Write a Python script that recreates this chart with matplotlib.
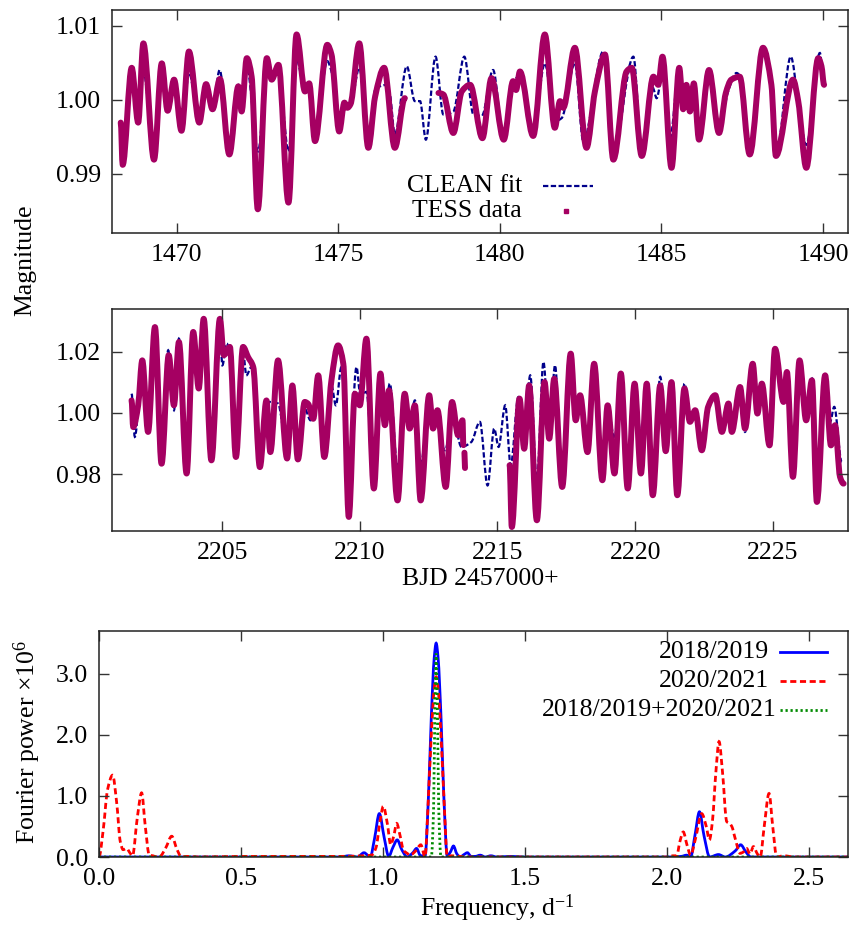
import numpy as np
import matplotlib
matplotlib.use('Agg')
import matplotlib.pyplot as plt
from matplotlib.ticker import FormatStrFormatter
from matplotlib.path import Path
from matplotlib.patches import PathPatch

plt.rcParams['font.family'] = ['Liberation Serif', 'DejaVu Serif']
plt.rcParams['mathtext.fontset'] = 'custom'
plt.rcParams['mathtext.rm'] = 'Liberation Serif'
plt.rcParams['mathtext.it'] = 'Liberation Serif:italic'

nan = np.nan

# ---------------- Panel 1: TESS 2018/2019 ----------------
t1_data = [1468.27, 1468.33, 1468.61, 1468.81, 1468.97, 1469.30, 1469.54, 1469.72, 1469.92, 1470.15,
           1470.38, 1470.70, 1470.91, 1471.11, 1471.34, 1471.63, 1471.91, 1472.01, 1472.17, 1472.32,
           1472.51, 1472.79, 1472.94, 1473.15, 1473.46, 1473.71, 1473.97, 1474.10, 1474.28, 1474.66,
           1474.79, 1475.03, 1475.19, 1475.28, 1475.38, 1475.65, 1475.93, 1476.14, 1476.42, 1476.75,
           1477.06, nan, 1478.10, 1478.25, 1478.56, 1478.82, 1479.08, 1479.46, 1479.74, 1480.12,
           1480.41, 1480.50, 1480.62, 1481.03, 1481.39, 1481.70, 1481.86, 1481.96, 1482.32, 1482.68,
           1482.94, 1483.25, 1483.51, 1483.92, 1484.08, 1484.39, 1484.75, 1484.90, 1485.03, 1485.31,
           1485.55, 1485.67, 1485.77, 1485.88, 1486.00, 1486.16, 1486.47, 1486.78, 1486.99, 1487.16,
           1487.42, 1487.73, 1488.14, 1488.40, 1488.54, 1489.07, 1489.23, 1489.48, 1489.85, 1489.95,
           1490.03]
m1_data = [0.9969, 0.9912, 1.0043, 0.9969, 1.0076, 0.9919, 1.0049, 0.9985, 1.0027, 0.9958,
           1.0065, 0.9969, 1.0021, 0.9987, 1.0028, 0.9926, 1.0018, 0.9984, 1.0056, 1.0031,
           0.9852, 1.0056, 1.0027, 1.0047, 0.9861, 1.0088, 1.0011, 1.0022, 0.9944, 1.0074,
           1.0061, 0.9957, 0.9996, 0.9989, 0.9994, 1.0076, 0.9935, 1.0004, 1.0043, 0.9935,
           1.0002, nan, 1.0009, 1.0007, 0.9955, 1.0011, 1.0020, 0.9948, 1.0029, 0.9946,
           1.0025, 1.0013, 1.0038, 0.9951, 1.0088, 0.9962, 0.9998, 0.9989, 1.0070, 0.9935,
           1.0011, 1.0061, 0.9919, 1.0038, 1.0043, 0.9924, 1.0031, 1.0020, 1.0058, 0.9908,
           1.0043, 0.9987, 1.0020, 0.9984, 1.0022, 0.9946, 1.0040, 0.9955, 1.0009, 1.0027,
           1.0031, 0.9926, 1.0070, 1.0020, 0.9924, 1.0027, 0.9998, 0.9908, 1.0056, 1.0045,
           1.0020]

t1_fit = [1468.30, 1468.61, 1468.80, 1468.97, 1469.30, 1469.54, 1469.72, 1469.92, 1470.15, 1470.38,
          1470.70, 1470.91, 1471.11, 1471.33, 1471.63, 1471.91, 1472.01, 1472.17, 1472.52, 1472.79,
          1472.95, 1473.15, 1473.46, 1473.71, 1473.97, 1474.10, 1474.28, 1474.66, 1474.79, 1475.05,
          1475.21, 1475.38, 1475.65, 1475.95, 1476.14, 1476.29, 1476.50, 1476.60, 1476.75, 1477.12,
          1477.37, 1477.53, 1477.71, 1478.01, 1478.25, 1478.56, 1478.90, 1479.18, 1479.44, 1479.79,
          1480.10, 1480.46, 1480.60, 1481.03, 1481.39, 1481.70, 1481.91, 1482.32, 1482.58, 1483.20,
          1483.51, 1484.13, 1484.39, 1484.73, 1484.85, 1485.04, 1485.26, 1485.55, 1485.67, 1485.77,
          1485.88, 1486.00, 1486.16, 1486.47, 1486.78, 1487.06, 1487.32, 1487.44, 1487.73, 1488.14,
          1488.40, 1488.56, 1489.00, 1489.23, 1489.48, 1489.90, 1490.03]
m1_fit = [0.9945, 1.0015, 1.0012, 1.0038, 0.9930, 1.0035, 0.9990, 1.0022, 0.9955, 1.0036,
          0.9975, 1.0018, 0.9985, 1.0040, 0.9935, 1.0020, 1.0005, 1.0045, 0.9930, 1.0038,
          1.0030, 1.0040, 0.9930, 1.0054, 1.0013, 1.0018, 0.9951, 1.0052, 1.0038, 0.9971,
          0.9993, 0.9993, 1.0043, 0.9946, 1.0013, 1.0018, 1.0020, 1.0007, 0.9953, 1.0045,
          0.9998, 0.9998, 0.9946, 1.0058, 0.9980, 0.9984, 1.0058, 0.9980, 0.9978, 1.0040,
          0.9953, 1.0027, 1.0031, 0.9957, 1.0049, 0.9971, 0.9975, 1.0049, 0.9944, 1.0065,
          0.9930, 1.0058, 0.9930, 1.0016, 1.0002, 1.0038, 0.9946, 1.0043, 0.9990, 1.0018,
          0.9984, 1.0020, 0.9948, 1.0040, 0.9960, 1.0011, 1.0036, 1.0031, 0.9930, 1.0063,
          1.0018, 0.9930, 1.0058, 0.9998, 0.9939, 1.0063, 1.0016]

# ---------------- Panel 2: TESS 2020/2021 ----------------
t2_data = [2201.71, 2201.77, 2201.95, 2202.10, 2202.31, 2202.56, 2202.80, 2203.06, 2203.25, 2203.43,
           2203.71, 2203.95, 2204.15, 2204.33, 2204.61, 2204.92, 2205.06, 2205.28, 2205.50, 2205.76,
           2205.94, 2206.13, 2206.37, 2206.61, 2206.75, 2207.03, 2207.36, 2207.55, 2207.75, 2208.00,
           2208.12, 2208.31, 2208.49, 2208.71, 2208.97, 2209.21, 2209.40, 2209.60, 2209.82, 2210.00,
           2210.24, 2210.51, 2210.75, 2210.91, 2211.06, 2211.37, 2211.63, 2211.81, 2212.00, 2212.21,
           2212.52, 2212.66, 2212.82, 2213.12, 2213.35, 2213.57, 2213.73, 2213.76, nan, 2213.80,
           2213.82, nan, 2215.44, 2215.52, 2215.80, 2215.97, 2216.15, 2216.43, 2216.71, 2216.88,
           2217.06, 2217.35, 2217.66, 2217.84, 2218.00, 2218.27, 2218.51, 2218.81, 2219.00, 2219.25,
           2219.48, 2219.73, 2219.98, 2220.21, 2220.42, 2220.64, 2220.91, 2221.11, 2221.32, 2221.53,
           2221.79, 2221.99, 2222.18, 2222.42, 2222.65, 2222.91, 2223.15, 2223.39, 2223.51, 2223.81,
           2223.99, 2224.27, 2224.44, 2224.60, 2224.88, 2225.08, 2225.39, 2225.51, 2225.73, 2225.97,
           2226.21, 2226.42, 2226.60, 2226.90, 2227.11, 2227.26, 2227.44, 2227.57]
m2_data = [1.0041, 0.9954, 1.0025, 1.0172, 0.9938, 1.0281, 0.9834, 1.0189, 1.0025, 1.0232,
           0.9802, 1.0265, 1.0080, 1.0308, 0.9845, 1.0308, 1.0189, 1.0216, 0.9856, 1.0216,
           1.0183, 1.0150, 0.9823, 1.0041, 0.9872, 1.0172, 0.9851, 1.0090, 0.9848, 1.0036,
           1.0030, 0.9981, 1.0123, 0.9856, 1.0107, 1.0221, 1.0161, 0.9660, 1.0063, 1.0025,
           1.0243, 0.9753, 1.0129, 0.9960, 1.0074, 0.9714, 1.0063, 0.9949, 1.0025, 0.9714,
           1.0058, 0.9949, 1.0009, 0.9758, 1.0036, 0.9927, 0.9976, 0.9895, nan, 0.9870,
           0.9820, nan, 0.9829, 0.9627, 1.0047, 0.9883, 1.0090, 0.9649, 1.0101, 0.9916,
           1.0112, 0.9758, 1.0194, 0.9976, 1.0058, 0.9872, 1.0161, 0.9780, 1.0025, 0.9802,
           1.0129, 0.9753, 1.0096, 0.9802, 1.0096, 0.9731, 1.0090, 0.9875, 1.0101, 0.9731,
           1.0080, 0.9971, 1.0009, 0.9878, 1.0020, 1.0058, 0.9938, 1.0031, 0.9938, 1.0085,
           0.9949, 1.0161, 0.9998, 1.0096, 0.9894, 1.0210, 1.0036, 1.0134, 0.9791, 1.0172,
           0.9976, 1.0107, 0.9709, 1.0123, 0.9894, 0.9960, 0.9791, 0.9769]

t2_fit = [2201.71, 2201.83, 2202.10, 2202.31, 2202.56, 2202.80, 2203.04, 2203.25, 2203.43, 2203.71,
          2203.95, 2204.15, 2204.33, 2204.61, 2204.92, 2205.01, 2205.16, 2205.30, 2205.50, 2205.76,
          2205.88, 2206.06, 2206.37, 2206.67, 2207.03, 2207.34, 2207.55, 2207.73, 2208.00, 2208.21,
          2208.49, 2208.71, 2208.97, 2209.13, 2209.33, 2209.60, 2209.88, 2210.02, 2210.24, 2210.51,
          2210.79, 2210.94, 2211.09, 2211.37, 2211.63, 2211.81, 2212.00, 2212.21, 2212.52, 2212.79,
          2213.09, 2213.39, 2213.69, 2214.05, 2214.36, 2214.64, 2214.88, 2215.04, 2215.28, 2215.48,
          2215.76, 2215.94, 2216.19, 2216.43, 2216.67, 2216.88, 2217.09, 2217.34, 2217.64, 2217.86,
          2218.03, 2218.27, 2218.51, 2218.81, 2219.00, 2219.25, 2219.48, 2219.73, 2219.98, 2220.21,
          2220.42, 2220.64, 2220.91, 2221.13, 2221.33, 2221.54, 2221.79, 2221.99, 2222.18, 2222.42,
          2222.73, 2222.91, 2223.15, 2223.39, 2223.51, 2223.81, 2223.99, 2224.27, 2224.44, 2224.60,
          2224.88, 2225.08, 2225.39, 2225.51, 2225.73, 2225.97, 2226.21, 2226.42, 2226.60, 2226.90,
          2227.08, 2227.23, 2227.50]
m2_fit = [1.0063, 0.9922, 1.0167, 0.9954, 1.0265, 0.9851, 1.0205, 1.0009, 1.0243, 0.9829,
          1.0259, 1.0090, 1.0298, 0.9862, 1.0254, 1.0156, 1.0227, 1.0189, 0.9872, 1.0199,
          1.0123, 1.0150, 0.9905, 1.0036, 1.0031, 0.9894, 0.9960, 0.9916, 1.0014, 0.9976,
          1.0058, 0.9872, 1.0090, 1.0025, 1.0150, 0.9807, 1.0150, 1.0058, 1.0069, 0.9785,
          1.0058, 1.0025, 1.0096, 0.9818, 1.0025, 0.9965, 1.0041, 0.9829, 1.0020, 0.9974,
          0.9878, 0.9981, 0.9889, 0.9905, 0.9971, 0.9763, 0.9949, 0.9889, 1.0025, 0.9829,
          1.0052, 0.9894, 1.0123, 0.9774, 1.0167, 0.9922, 1.0156, 0.9763, 1.0189, 0.9971,
          1.0058, 0.9878, 1.0156, 0.9796, 1.0020, 0.9916, 1.0123, 0.9763, 1.0090, 0.9927,
          1.0090, 0.9747, 1.0118, 0.9949, 1.0096, 0.9742, 1.0096, 0.9981, 1.0009, 0.9889,
          1.0041, 1.0052, 0.9960, 1.0025, 0.9954, 1.0074, 0.9938, 1.0156, 1.0000, 1.0090,
          0.9900, 1.0205, 1.0047, 1.0134, 0.9818, 1.0161, 0.9985, 1.0112, 0.9742, 1.0118,
          0.9971, 1.0020, 0.9840]

# ---------------- Panel 3: Fourier spectra ----------------
freq_1819 = [0.0, 0.85, 0.88, 0.91, 0.933, 0.955, 0.970, 0.987, 1.004, 1.020, 1.035, 1.050, 1.066,
             1.085, 1.105, 1.118, 1.132, 1.148, 1.160, 1.170, 1.180, 1.187, 1.194, 1.204, 1.214,
             1.226, 1.237, 1.248, 1.260, 1.272, 1.285, 1.297, 1.310, 1.325, 1.342, 1.360, 1.380,
             1.400, 1.450, 1.500, 2.000, 2.050, 2.069, 2.083, 2.098, 2.114, 2.130, 2.150, 2.181,
             2.205, 2.240, 2.259, 2.278, 2.295, 2.640]
pow_1819 = [0.0, 0.0, 0.02, 0.0, 0.07, 0.0, 0.30, 0.71, 0.32, 0.01, 0.16, 0.28, 0.12,
            0.0, 0.07, 0.14, 0.02, 0.02, 1.00, 2.30, 3.25, 3.50, 3.25, 2.30, 1.00,
            0.02, 0.08, 0.18, 0.05, 0.0, 0.04, 0.07, 0.01, 0.01, 0.03, 0.0, 0.02,
            0.0, 0.01, 0.0, 0.0, 0.01, 0.03, 0.0, 0.35, 0.74, 0.35, 0.0, 0.04,
            0.0, 0.10, 0.20, 0.08, 0.0, 0.0]

freq_2021 = [0.0, 0.015, 0.030, 0.048, 0.062, 0.075, 0.085, 0.097, 0.110, 0.118, 0.135, 0.150,
             0.163, 0.177, 0.190, 0.205, 0.215, 0.235, 0.256, 0.275, 0.290, 0.310, 0.350, 0.500,
             0.850, 0.930, 0.960, 0.975, 0.990, 1.001, 1.015, 1.027, 1.038, 1.048, 1.060, 1.072,
             1.085, 1.095, 1.115, 1.133, 1.148, 1.158, 1.170, 1.180, 1.187, 1.194, 1.204, 1.216,
             1.226, 1.240, 1.300, 2.000, 2.020, 2.034, 2.045, 2.057, 2.070, 2.083, 2.100, 2.122,
             2.138, 2.149, 2.160, 2.172, 2.183, 2.195, 2.210, 2.220, 2.228, 2.240, 2.257, 2.268,
             2.280, 2.292, 2.304, 2.318, 2.328, 2.342, 2.359, 2.372, 2.386, 2.410, 2.450, 2.640]
pow_2021 = [0.0, 0.45, 1.10, 1.34, 0.90, 0.25, 0.12, 0.14, 0.06, 0.02, 0.65, 1.05,
            0.50, 0.03, 0.02, 0.0, 0.01, 0.15, 0.34, 0.12, 0.0, 0.01, 0.0, 0.01,
            0.01, 0.02, 0.03, 0.15, 0.60, 0.83, 0.55, 0.20, 0.35, 0.55, 0.35, 0.11,
            0.06, 0.03, 0.10, 0.20, 0.0, 0.80, 2.00, 2.75, 2.95, 2.75, 2.00, 0.80,
            0.0, 0.02, 0.0, 0.0, 0.02, 0.02, 0.25, 0.41, 0.20, 0.03, 0.30, 0.71,
            0.50, 0.28, 0.60, 1.40, 1.89, 1.40, 0.58, 0.55, 0.50, 0.30, 0.06, 0.08,
            0.14, 0.05, 0.17, 0.05, 0.0, 0.50, 1.04, 0.50, 0.0, 0.02, 0.0, 0.0]

freq_all = [0.0, 1.170, 1.178, 1.183, 1.187, 1.191, 1.196, 1.204, 2.640]
pow_all = [0.0, 0.0, 0.80, 2.60, 3.33, 2.60, 0.80, 0.0, 0.0]

# ---------------- style ----------------
FS = 18.5
DATA_C = '#a50062'
FIT_C = '#00008b'
FRAME_C = '#222222'
FIT_LS = (0, (2.4, 1.1))
RED_LS = (0, (2.2, 1.3))
GREEN_LS = (0, (0.8, 1.0))


def smooth_path(x, y):
    """Smooth (monotone cubic Bezier) path through the given points; NaN splits segments."""
    x = np.asarray(x, float)
    y = np.asarray(y, float)
    verts, codes = [], []
    bad = np.isnan(x) | np.isnan(y)
    idx = np.where(~bad)[0]
    segs = np.split(idx, np.where(np.diff(idx) > 1)[0] + 1)
    for s in segs:
        xs, ys = x[s], y[s]
        n = len(xs)
        if n == 0:
            continue
        slope = np.zeros(n)
        if n > 2:
            d = np.diff(ys) / np.diff(xs)
            for i in range(1, n - 1):
                if d[i - 1] * d[i] > 0:
                    slope[i] = 2.0 / (1.0 / d[i - 1] + 1.0 / d[i])
        verts.append((xs[0], ys[0]))
        codes.append(Path.MOVETO)
        for i in range(n - 1):
            dx = xs[i + 1] - xs[i]
            verts += [(xs[i] + dx / 3, ys[i] + slope[i] * dx / 3),
                      (xs[i + 1] - dx / 3, ys[i + 1] - slope[i + 1] * dx / 3),
                      (xs[i + 1], ys[i + 1])]
            codes += [Path.CURVE4] * 3
    return Path(verts, codes)


def draw_curve(ax, x, y, **kw):
    p = PathPatch(smooth_path(x, y), fill=False, **kw)
    ax.add_patch(p)
    return p


fig = plt.figure(figsize=(8.49, 9.30), dpi=100)
W, H = 849.0, 930.0
ax1 = fig.add_axes([112 / W, 1 - 233 / H, 736 / W, 223 / H])
ax2 = fig.add_axes([112 / W, 1 - 531 / H, 736 / W, 222 / H])
ax3 = fig.add_axes([99 / W, 1 - 857 / H, 749 / W, 226 / H])


def style(ax):
    for s in ax.spines.values():
        s.set_linewidth(1.1)
        s.set_color(FRAME_C)
        s.set_zorder(5)
    ax.tick_params(direction='in', length=7, width=1, top=True, right=True,
                   labelsize=FS, pad=8, color='#333333')


# Panel 1
draw_curve(ax1, t1_fit, m1_fit, edgecolor=FIT_C, lw=1.6, ls=FIT_LS)
draw_curve(ax1, t1_data, m1_data, edgecolor=DATA_C, lw=4.3, joinstyle='round', capstyle='round')
ax1.set_xlim(1468.0, 1490.77)
ax1.set_ylim(0.9820, 1.0121)
ax1.set_xticks([1470, 1475, 1480, 1485, 1490])
ax1.set_yticks([0.99, 1.00, 1.01])
ax1.yaxis.set_major_formatter(FormatStrFormatter('%.2f'))
style(ax1)
ax1.text(0.557, 0.211, 'CLEAN fit', transform=ax1.transAxes, ha='right', va='center', fontsize=FS)
ax1.text(0.557, 0.099, 'TESS data', transform=ax1.transAxes, ha='right', va='center', fontsize=FS)
ax1.plot([0.586, 0.653], [0.211, 0.211], transform=ax1.transAxes, color=FIT_C, lw=1.6, ls=FIT_LS)
ax1.plot([0.617], [0.099], transform=ax1.transAxes, marker='s', ms=2.6, color=DATA_C, ls='none')

# Panel 2
draw_curve(ax2, t2_fit, m2_fit, edgecolor=FIT_C, lw=1.6, ls=FIT_LS)
draw_curve(ax2, t2_data, m2_data, edgecolor=DATA_C, lw=4.3, joinstyle='round', capstyle='round')
ax2.set_xlim(2201.0, 2227.73)
ax2.set_ylim(0.9614, 1.0340)
ax2.set_xticks([2205, 2210, 2215, 2220, 2225])
ax2.set_yticks([0.98, 1.00, 1.02])
ax2.yaxis.set_major_formatter(FormatStrFormatter('%.2f'))
style(ax2)

# Panel 3
draw_curve(ax3, freq_1819, pow_1819, edgecolor='#0000ff', lw=2)
draw_curve(ax3, freq_2021, pow_2021, edgecolor='#ff0000', lw=2, ls=RED_LS)
draw_curve(ax3, freq_all, pow_all, edgecolor='#008a00', lw=2, ls=GREEN_LS)
ax3.set_xlim(0.0, 2.637)
ax3.set_ylim(0.0, 3.70)
ax3.set_xticks([0.0, 0.5, 1.0, 1.5, 2.0, 2.5])
ax3.set_yticks([0.0, 1.0, 2.0, 3.0])
ax3.xaxis.set_major_formatter(FormatStrFormatter('%.1f'))
ax3.yaxis.set_major_formatter(FormatStrFormatter('%.1f'))
style(ax3)
rows = [(0.907, '2018/2019', 0.894, dict(color='#0000ff', lw=2)),
        (0.779, '2020/2021', 0.894, dict(color='#ff0000', lw=2, ls=RED_LS)),
        (0.650, '2018/2019+2020/2021', 0.905, dict(color='#008a00', lw=2, ls=GREEN_LS))]
for y, lab, xr, kw in rows:
    ax3.text(xr, y, lab, transform=ax3.transAxes, ha='right', va='center', fontsize=FS)
    ax3.plot([0.909, 0.972], [y, y], transform=ax3.transAxes, **kw)

# Axis labels
fig.text(25 / W, 1 - 260 / H, 'Magnitude', rotation=90, ha='center', va='center', fontsize=FS)
fig.text(480 / W, 1 - 579 / H, 'BJD 2457000+', ha='center', va='center', fontsize=FS)
fig.text(27 / W, 1 - 742 / H, 'Fourier power \u00d710$^{6}$', rotation=90, ha='center',
         va='center', fontsize=FS)
fig.text(497 / W, 1 - 908 / H, 'Frequency, d$^{\\mathregular{-1}}$', ha='center', va='center',
         fontsize=FS)

fig.savefig('out.png', dpi=100)
